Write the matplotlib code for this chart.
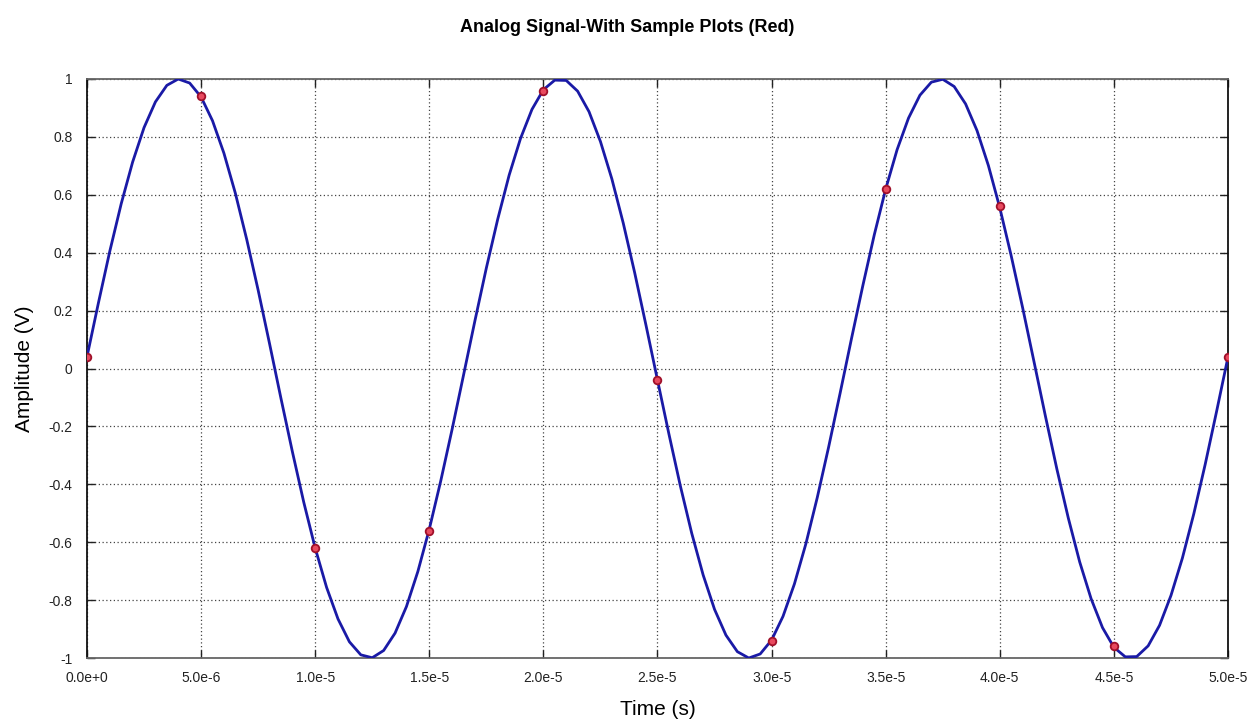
import numpy as np
import matplotlib
matplotlib.use('Agg')
import matplotlib.pyplot as plt

plt.rcParams['font.family'] = ['Liberation Sans', 'DejaVu Sans']

# analog signal, every 0.5 us from 0 to 50 us
t_us = np.arange(0, 50.5, 0.5)
signal = [0.040, 0.226, 0.405, 0.569, 0.713, 0.832, 0.921, 0.978, 1.000, 0.986,
          0.938, 0.856, 0.744, 0.606, 0.446, 0.271, 0.086, -0.103, -0.287, -0.462,
          -0.620, -0.756, -0.865, -0.944, -0.989, -0.999, -0.974, -0.914, -0.822, -0.701,
          -0.555, -0.389, -0.210, -0.023, 0.165, 0.347, 0.516, 0.668, 0.795, 0.895,
          0.963, 0.996, 0.995, 0.958, 0.887, 0.784, 0.655, 0.502, 0.331, 0.148,
          -0.040, -0.226, -0.405, -0.569, -0.713, -0.832, -0.921, -0.978, -1.000, -0.986,
          -0.938, -0.856, -0.744, -0.606, -0.446, -0.271, -0.086, 0.103, 0.287, 0.462,
          0.620, 0.756, 0.865, 0.944, 0.989, 0.999, 0.974, 0.914, 0.822, 0.701,
          0.555, 0.389, 0.210, 0.023, -0.165, -0.347, -0.516, -0.668, -0.795, -0.895,
          -0.963, -0.996, -0.995, -0.958, -0.887, -0.784, -0.655, -0.502, -0.331, -0.148,
          0.040]

# samples (red)
sample_t_us = [0, 5, 10, 15, 20, 25, 30, 35, 40, 45, 50]
sample_v = [0.04, 0.94, -0.62, -0.56, 0.96, -0.04, -0.94, 0.62, 0.56, -0.96, 0.04]

xticks = [0, 5e-6, 1e-5, 1.5e-5, 2e-5, 2.5e-5, 3e-5, 3.5e-5, 4e-5, 4.5e-5, 5e-5]
xlabels = ['0.0e+0', '5.0e-6', '1.0e-5', '1.5e-5', '2.0e-5', '2.5e-5',
           '3.0e-5', '3.5e-5', '4.0e-5', '4.5e-5', '5.0e-5']
yticks = [1, 0.8, 0.6, 0.4, 0.2, 0, -0.2, -0.4, -0.6, -0.8, -1]
ylabels = ['1', '0.8', '0.6', '0.4', '0.2', '0', '-0.2', '-0.4', '-0.6', '-0.8', '-1']

fig = plt.figure(figsize=(12.55, 7.22), dpi=100)
ax = fig.add_axes([0.0693, 0.0886, 0.9092, 0.802])

t = t_us * 1e-6
st = np.array(sample_t_us) * 1e-6
ax.plot(t, signal, color='#1a1aa6', lw=2.0, zorder=3)
ax.plot(st, sample_v, ls='', marker='o', ms=5.5, mfc='#e84a5f', mec='#a0102a',
        mew=1.3, zorder=4)

ax.set_xlim(0, 5e-5)
ax.set_ylim(-1, 1)
ax.set_xticks(xticks)
ax.set_xticklabels(xlabels)
ax.set_yticks(yticks)
ax.set_yticklabels(ylabels)
ax.tick_params(direction='in', length=6, width=1, top=True, right=True,
               labelsize=10, colors='#222222', pad=10.5)
ax.tick_params(axis='x', pad=9)
ax.grid(True, color='#444444', ls=(0, (1, 2)), lw=0.9)

for s in ['left', 'right']:
    ax.spines[s].set_color('#111111')
for s in ['top', 'bottom']:
    ax.spines[s].set_color('#666666')
for s in ax.spines.values():
    s.set_linewidth(1.3)

ax.set_xlabel('Time (s)', fontsize=15, labelpad=11)
ax.set_ylabel('Amplitude (V)', fontsize=15, labelpad=10)
fig.text(0.5, 0.962, 'Analog Signal-With Sample Plots (Red)', ha='center', va='center',
         fontsize=13, fontweight='bold')

fig.savefig('out.png', dpi=100)
